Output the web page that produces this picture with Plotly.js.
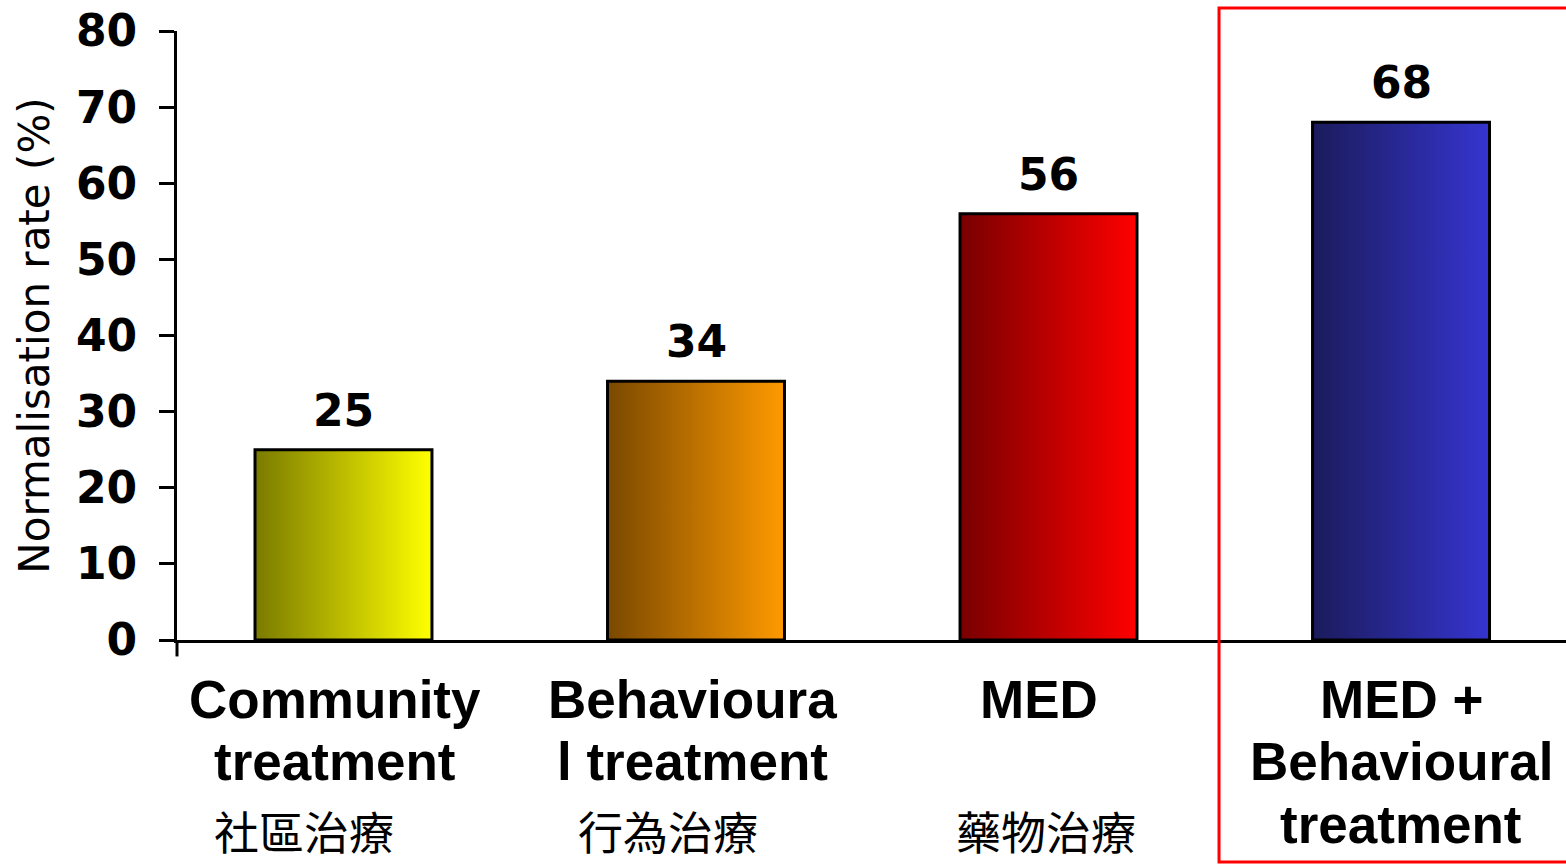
<!DOCTYPE html>
<html><head><meta charset="utf-8">
<script src="https://cdn.plot.ly/plotly-3.0.1.min.js"></script>
<style>html,body{margin:0;padding:0;background:#fff;}#chart{width:1566px;height:864px;}</style>
</head><body><div id="chart"></div>
<script>
const categories = ["Community treatment", "Behavioural treatment", "MED", "MED + Behavioural treatment"];
const englishLines = [["Community", "treatment"], ["Behavioura", "l treatment"], ["MED"], ["MED +", "Behavioural", "treatment"]];
const chineseLabels = ["社區治療", "行為治療", "藥物治療", ""];
const values = [25, 34, 56, 68];
const gradLeft = ["#7a7a00", "#7a4800", "#780000", "#1b1b5c"];
const gradRight = ["#ffff00", "#ff9a00", "#ff0000", "#3535d0"];
const yTicks = [0, 10, 20, 30, 40, 50, 60, 70, 80];

// layout constants (pixel offsets for label placement)
const englishShift = [-8, -4, -10, 0];
const chineseShift = [-39, -28, -3, 0];
const lineShifts = [-59, -121, -184];
const chineseLineShift = -190;

const xPos = categories.map((c, i) => i);

const trace = {
  type: "bar",
  x: xPos,
  y: values,
  width: 0.502,
  marker: {color: gradRight, line: {color: "#000", width: 3}},
  hoverinfo: "none"
};

const annotations = [];
values.forEach((v, i) => {
  annotations.push({x: xPos[i], y: v, xref: "x", yref: "y", text: String(v), showarrow: false,
    yanchor: "bottom", yshift: 12,
    font: {family: "DejaVu Sans", size: 44, weight: "bold", color: "#000"}});
});
englishLines.forEach((lines, i) => {
  lines.forEach((ln, k) => {
    annotations.push({x: xPos[i], y: 0, xref: "x", yref: "paper", text: ln, showarrow: false,
      yanchor: "middle", xanchor: "center", xshift: englishShift[i], yshift: lineShifts[k],
      font: {family: "Liberation Sans", size: 53, weight: "bold", color: "#000"}});
  });
  if (chineseLabels[i]) {
    annotations.push({x: xPos[i], y: 0, xref: "x", yref: "paper", text: chineseLabels[i], showarrow: false,
      yanchor: "middle", xanchor: "center", xshift: chineseShift[i], yshift: chineseLineShift,
      font: {family: "Noto Sans CJK TC", size: 45, color: "#000"}});
  }
});

const layout = {
  width: 1566, height: 864,
  margin: {l: 177, r: 0, t: 31, b: 224},
  paper_bgcolor: "#fff", plot_bgcolor: "#fff",
  showlegend: false,
  xaxis: {
    range: [-0.4723, 3.468],
    tickvals: xPos, showticklabels: false,
    ticks: "", showgrid: false, zeroline: false,
    showline: true, linecolor: "#000", linewidth: 3,
    automargin: false
  },
  yaxis: {
    range: [0, 80], tickvals: yTicks,
    ticks: "outside", ticklen: 15, tickwidth: 3, tickcolor: "#000",
    showline: true, linecolor: "#000", linewidth: 3,
    showgrid: false, zeroline: false,
    ticklabelstandoff: 13,
    tickfont: {family: "DejaVu Sans", size: 44, weight: "bold", color: "#000"},
    title: {text: "Normalisation rate (%)", font: {family: "DejaVu Sans", size: 42, color: "#000"}, standoff: 14},
    automargin: false
  },
  annotations: annotations,
  shapes: [
    {type: "rect", xref: "paper", yref: "paper", x0: 0.7502, x1: 1.01, y0: -0.3645, y1: 1.0378, line: {color: "#ff0000", width: 3}},
    {type: "line", xref: "paper", yref: "paper", x0: 0, x1: 0, y0: 0, y1: -0.027, line: {color: "#000", width: 3}}
  ]
};

function applyGradients(gd) {
  const svg = gd.querySelector("svg.main-svg");
  const ns = "http://www.w3.org/2000/svg";
  let defs = svg.querySelector("defs");
  if (!defs) { defs = document.createElementNS(ns, "defs"); svg.insertBefore(defs, svg.firstChild); }
  gradLeft.forEach((c, i) => {
    if (document.getElementById("bargrad" + i)) return;
    const g = document.createElementNS(ns, "linearGradient");
    g.setAttribute("id", "bargrad" + i);
    g.setAttribute("x1", "0"); g.setAttribute("x2", "1"); g.setAttribute("y1", "0"); g.setAttribute("y2", "0");
    const s1 = document.createElementNS(ns, "stop"); s1.setAttribute("offset", "0"); s1.setAttribute("stop-color", c);
    const s2 = document.createElementNS(ns, "stop"); s2.setAttribute("offset", "1"); s2.setAttribute("stop-color", gradRight[i]);
    g.appendChild(s1); g.appendChild(s2); defs.appendChild(g);
  });
  gd.querySelectorAll(".trace.bars .point path").forEach((p, i) => { p.style.fill = "url(#bargrad" + i + ")"; });
}

Plotly.newPlot("chart", [trace], layout, {staticPlot: true}).then(gd => {
  applyGradients(gd);
  gd.on("plotly_afterplot", () => applyGradients(gd));
});
</script></body></html>
